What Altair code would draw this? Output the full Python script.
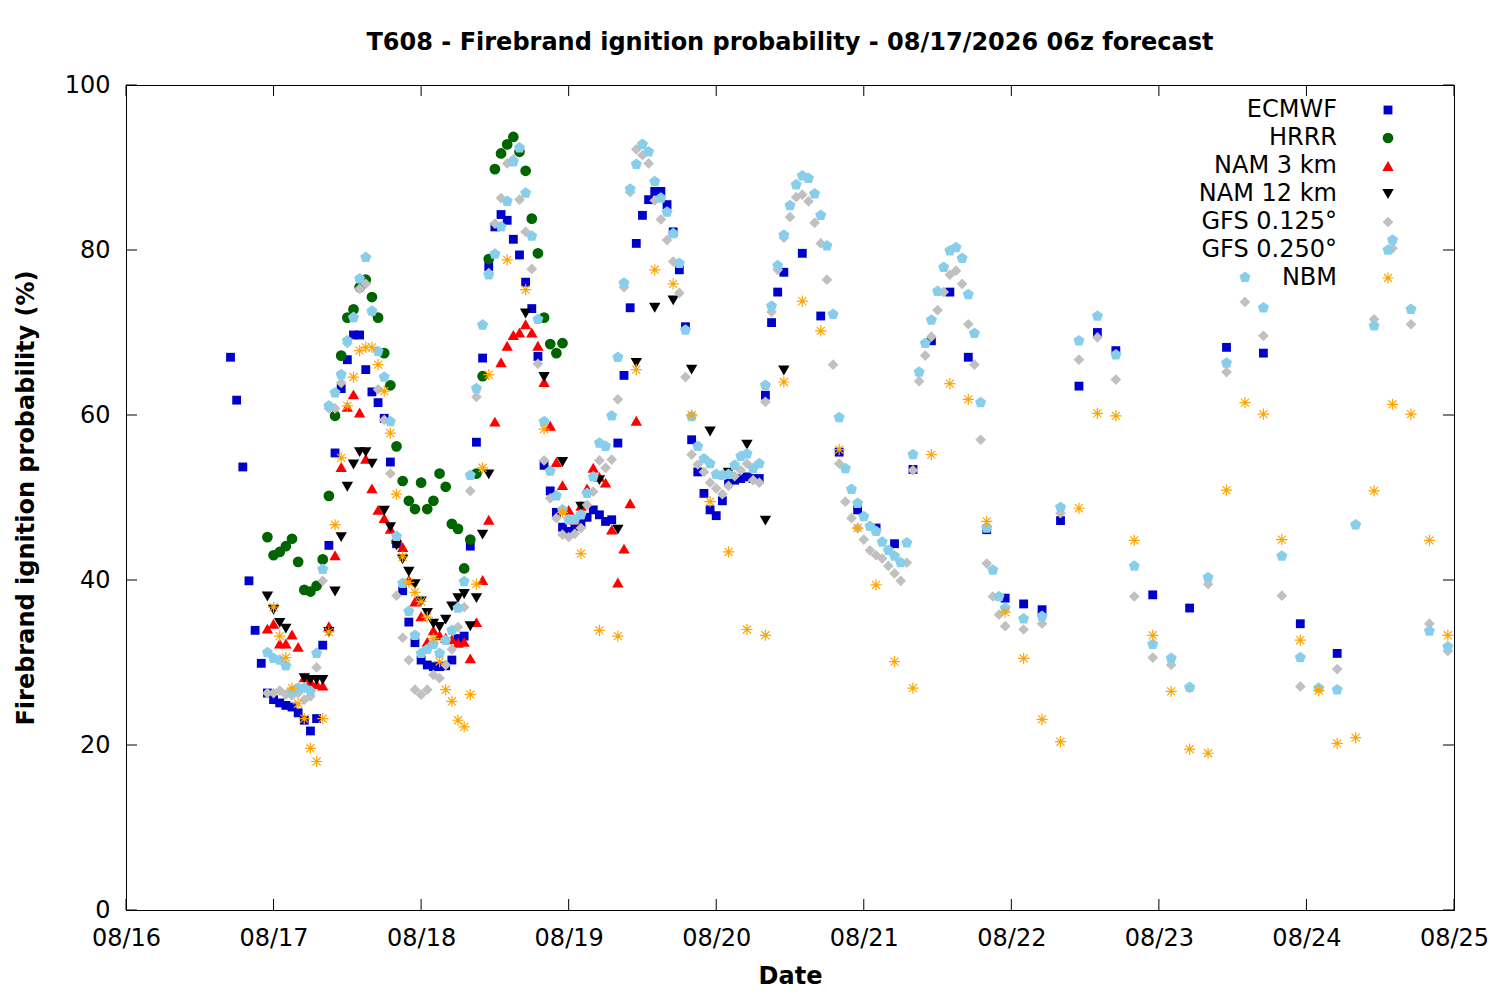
import altair as alt
import pandas as pd

FONT = "DejaVu Sans"
FS = 24
START = pd.Timestamp("2026-08-16 00:00")

# valid times are hours after 08/16 00h; values are ignition probability (%)
ecmwf_hours = list(range(17, 108)) + list(range(110, 162, 3)) + list(range(167, 198, 6))
ecmwf_vals = [
    67.0, 61.8, 53.7, 39.9, 33.9, 29.9, 26.3, 25.5, 25.1, 24.8,
    24.6, 23.9, 23.0, 21.7, 23.2, 32.1, 44.2, 55.4, 63.2, 66.7,
    69.7, 69.7, 65.5, 62.8, 61.5, 59.6, 54.3, 44.4, 38.7, 34.9,
    32.4, 30.3, 29.7, 29.5, 29.5, 29.6, 30.3, 32.9, 33.2, 44.1,
    56.7, 66.9, 78.0, 82.8, 84.3, 83.6, 81.3, 79.4, 76.1, 72.9,
    67.1, 53.9, 50.8, 48.2, 46.4, 45.9, 46.5, 46.9, 47.6, 48.5,
    47.9, 47.1, 47.3, 56.6, 64.8, 73.0, 80.8, 84.2, 86.1, 87.1,
    87.1, 85.5, 82.2, 77.6, 70.7, 57.0, 53.1, 50.5, 48.5, 47.8,
    49.6, 51.9, 52.1, 52.3, 52.5, 52.3, 52.3, 62.4, 71.2, 74.9,
    77.3,
    79.6, 72.0, 55.5, 48.5, 46.3, 44.4, 53.4, 69.0, 74.9, 67.0,
    46.1, 37.8, 37.1, 36.4, 47.2, 63.5, 70.0, 67.8,
    38.2, 36.6, 68.2, 67.5, 34.7, 31.1,
]

hrrr_hours = list(range(23, 72))
hrrr_vals = [
    45.2, 43.0, 43.4, 44.1, 45.0, 42.2, 38.8, 38.6, 39.3, 42.5,
    50.2, 59.9, 67.2, 71.8, 72.8, 75.5, 76.4, 74.3, 71.8, 67.5,
    63.6, 56.2, 52.0, 49.6, 48.6, 51.8, 48.6, 49.6, 52.9, 51.3,
    46.8, 46.2, 41.4, 44.9, 52.9, 64.7, 78.9, 89.8, 91.7, 92.8,
    93.7, 91.9, 89.6, 83.8, 79.6, 71.8, 68.6, 67.5, 68.7,
]

nam3_hours = list(range(23, 84))
nam3_vals = [
    34.1, 34.7, 32.3, 32.3, 33.4, 31.9, 28.2, 27.7, 27.4, 27.2,
    34.4, 43.0, 53.7, 61.0, 62.5, 60.3, 54.7, 51.1, 48.5, 47.5,
    46.2, 45.0, 44.0, 40.0, 37.4, 35.6, 32.5, 33.9, 33.3, 33.0,
    32.8, 32.4, 32.5, 30.5, 34.9, 40.0, 47.3, 59.2, 66.4, 68.4,
    69.7, 70.0, 71.0, 70.0, 68.4, 64.0, 58.7, 54.3, 51.5, 48.5,
    47.3, 49.0, 51.1, 53.6, 52.5, 51.8, 46.1, 39.7, 43.8, 49.3,
    59.3,
]

nam12_hours = [23, 24, 25, 26] + list(range(29, 41)) + list(range(42, 60)) + list(range(65, 108, 3))
nam12_vals = [
    38.0, 36.4, 34.8, 34.1,
    28.1, 27.9, 27.9, 27.9, 33.7, 38.6, 45.2, 51.3, 54.0, 55.5, 55.5, 54.1,
    48.4, 46.4, 44.2, 42.5, 41.0, 39.5, 37.4, 36.0, 34.7, 34.3,
    35.2, 36.8, 37.8, 38.3, 34.4, 37.8, 45.5, 52.8,
    72.3, 64.6, 54.3, 48.9, 52.1, 46.1, 66.3, 73.0, 73.9, 65.5,
    58.0, 53.0, 56.4, 47.2, 65.4,
]

gfs_hours = list(range(23, 144)) + list(range(146, 216, 3))
gfs125_vals = [
    26.3, 26.3, 26.6, 26.1, 26.0, 26.3, 25.5, 25.9, 29.4, 39.9,
    60.8, 60.8, 63.9, 68.7, 71.9, 75.3, 75.9, 72.5, 63.1, 59.4,
    52.9, 38.1, 33.0, 30.3, 26.7, 26.1, 26.7, 28.5, 28.1, 29.7,
    31.6, 34.3, 36.7, 50.8, 62.2, 71.0, 77.2, 83.2, 86.3, 90.5,
    91.0, 86.1, 82.2, 77.7, 66.2, 54.5, 49.9, 47.5, 45.5, 45.2,
    45.6, 46.3, 49.1, 50.7, 54.5, 53.6, 54.6, 61.9, 75.5, 87.0,
    92.2, 91.5, 90.5, 86.0, 83.7, 81.2, 78.6, 74.8, 64.6, 55.2,
    54.0, 53.1, 51.8, 51.1, 50.4, 51.4, 52.6, 53.3, 54.1, 52.1,
    51.8, 61.6, 72.5, 77.6, 81.5, 84.0, 86.4, 86.7, 85.9, 83.3,
    80.8, 76.4, 66.1, 54.1, 49.5, 47.5, 46.3, 44.9, 43.6, 43.0,
    42.6, 41.7, 40.8, 39.9, 42.1, 53.3, 64.1, 67.2, 69.5, 72.7,
    74.9, 77.0, 77.5, 75.9, 71.0, 66.1, 57.0, 42.0, 38.0, 35.8,
    34.4,
    34.0, 34.7, 48.1, 66.7, 69.4, 64.3, 38.0, 30.6, 29.7, 26.9,
    39.5, 65.2, 73.7, 69.6, 38.1, 27.1, 26.9, 29.2, 46.7, 71.6,
    80.2, 71.0, 34.7, 31.4,
]
gfs250_vals = [
    31.2, 30.5, 30.3, 29.6, 26.5, 26.9, 26.9, 26.5, 31.1, 41.3,
    61.1, 62.7, 64.9, 69.0, 71.8, 76.5, 79.1, 72.6, 67.7, 64.6,
    59.2, 45.3, 39.6, 36.2, 33.3, 31.1, 31.6, 32.2, 31.1, 32.7,
    33.9, 36.6, 39.8, 52.7, 63.2, 70.9, 77.0, 79.5, 82.8, 85.9,
    90.7, 92.4, 86.9, 81.7, 71.6, 59.2, 53.2, 50.2, 48.5, 47.3,
    47.3, 47.9, 50.5, 52.5, 56.6, 56.2, 59.9, 67.0, 76.0, 87.4,
    90.4, 92.8, 91.9, 88.3, 86.3, 84.6, 82.0, 78.4, 70.3, 59.8,
    56.2, 54.7, 54.1, 52.8, 52.7, 52.8, 53.9, 55.0, 55.3, 53.5,
    54.1, 63.6, 73.2, 78.1, 81.8, 85.4, 87.9, 89.0, 88.7, 86.8,
    84.2, 80.5, 72.2, 59.7, 53.5, 51.0, 49.3, 47.7, 46.5, 45.9,
    44.6, 43.6, 42.9, 42.1, 44.5, 55.2, 65.2, 68.7, 71.5, 75.0,
    77.9, 79.9, 80.3, 79.0, 74.6, 69.9, 61.5, 46.3, 41.2, 38.0,
    36.6,
    35.3, 35.6, 48.8, 69.0, 72.0, 67.3, 41.7, 32.2, 30.5, 27.0,
    40.3, 66.3, 76.7, 73.0, 42.9, 30.6, 26.9, 26.7, 46.7, 70.8,
    81.2, 72.8, 33.8, 31.9,
]

nbm_hours = list(range(24, 60)) + list(range(62, 216, 3))
nbm_vals = [
    36.7, 33.2, 30.6, 26.9, 25.0, 23.2, 19.6, 18.0, 23.2, 33.7,
    46.7, 54.8, 61.1, 64.6, 67.8, 68.2, 68.2, 66.1, 62.9, 57.8,
    50.4, 42.8, 39.7, 38.5, 37.4, 35.5, 32.9, 30.1, 26.7, 25.3,
    23.0, 22.2, 26.1, 39.5, 53.6, 64.9,
    78.8, 75.2, 58.3, 48.2, 43.2, 33.9, 33.2, 65.5, 77.6, 75.9,
    60.0, 49.5, 43.4, 34.0, 33.3, 64.0, 73.8, 70.2, 55.8, 46.3,
    39.4, 30.1, 26.9, 55.2, 63.8, 61.9, 47.1, 36.1, 30.5, 23.1,
    20.4, 48.7, 60.2, 59.9, 44.8, 33.3, 26.5, 19.5, 19.0, 50.9,
    61.5, 60.1, 44.9, 32.7, 26.6, 20.2, 20.9, 50.8, 61.3, 60.1,
    44.8, 33.3,
]

models = ["ECMWF", "HRRR", "NAM 3 km", "NAM 12 km", "GFS 0.125°", "GFS 0.250°", "NBM"]
series = [
    (ecmwf_hours, ecmwf_vals), (hrrr_hours, hrrr_vals), (nam3_hours, nam3_vals),
    (nam12_hours, nam12_vals), (gfs_hours, gfs125_vals), (gfs_hours, gfs250_vals),
    (nbm_hours, nbm_vals),
]
y_ticks = [0, 20, 40, 60, 80, 100]
day_ticks = pd.date_range("2026-08-16", "2026-08-25", freq="D")

PENTAGON = "M0,-1L0.951,-0.309L0.588,0.809L-0.588,0.809L-0.951,-0.309Z"
ASTERISK = "M-1,0L1,0M0,-1L0,1M-0.72,-0.72L0.72,0.72M-0.72,0.72L0.72,-0.72"
styles = {
    "ECMWF": dict(shape="square", color="#0000cd", size=78, filled=True),
    "HRRR": dict(shape="circle", color="#006400", size=115, filled=True),
    "NAM 3 km": dict(shape="triangle-up", color="#ff0000", size=130, filled=True),
    "NAM 12 km": dict(shape="triangle-down", color="#000000", size=130, filled=True),
    "GFS 0.125°": dict(shape="diamond", color="#c0c0c0", size=115, filled=True),
    "GFS 0.250°": dict(shape=PENTAGON, color="#87ceeb", size=135, filled=True),
    "NBM": dict(shape=ASTERISK, color="#ffa500", size=125, filled=False),
}

W, H = 1328, 825

x_enc = alt.X("time:T", title="Date",
              scale=alt.Scale(domain=[alt.DateTime(year=2026, month=8, date=16),
                                      alt.DateTime(year=2026, month=8, date=25)]),
              axis=alt.Axis(values=[alt.DateTime(year=d.year, month=d.month, date=d.day) for d in day_ticks],
                            format="%m/%d", labelPadding=16, titlePadding=14,
                            labelFlush=False, labelBound=False, labelOverlap=False))
y_enc = alt.Y("prob:Q", title="Firebrand ignition probability (%)",
              scale=alt.Scale(domain=[0, 100], nice=False),
              axis=alt.Axis(values=y_ticks, labelPadding=16, titlePadding=26))

layers = []

# inward tick marks on all four sides, like the gnuplot border
ytk = pd.DataFrame({"prob": y_ticks})
xtk = pd.DataFrame({"time": day_ticks})
layers.append(alt.Chart(ytk).mark_rule(color="black").encode(y=y_enc, x=alt.value(0), x2=alt.value(11)))
layers.append(alt.Chart(ytk).mark_rule(color="black").encode(y=y_enc, x=alt.value(W - 11), x2=alt.value(W)))
layers.append(alt.Chart(xtk).mark_rule(color="black").encode(x=x_enc, y=alt.value(H - 11), y2=alt.value(H)))
layers.append(alt.Chart(xtk).mark_rule(color="black").encode(x=x_enc, y=alt.value(0), y2=alt.value(11)))

for name, (hours, vals) in zip(models, series):
    st = styles[name]
    df = pd.DataFrame({"time": [START + pd.Timedelta(hours=h) for h in hours], "prob": vals})
    layers.append(
        alt.Chart(df).mark_point(shape=st["shape"], color=st["color"], size=st["size"],
                                 filled=st["filled"], opacity=1, strokeWidth=1.2)
        .encode(x=x_enc, y=y_enc)
    )

# key in the top right corner: label, then symbol
for i, name in enumerate(models):
    st = styles[name]
    row = pd.DataFrame({"model": [name]})
    ypos = 25 + 28 * i
    layers.append(
        alt.Chart(row).mark_text(align="right", baseline="middle", font=FONT, fontSize=FS, color="black")
        .encode(text="model:N", x=alt.value(1211), y=alt.value(ypos))
    )
    layers.append(
        alt.Chart(row).mark_point(shape=st["shape"], color=st["color"], size=st["size"],
                                  filled=st["filled"], opacity=1, strokeWidth=1.2)
        .encode(x=alt.value(1262), y=alt.value(ypos))
    )

chart = alt.layer(*layers).properties(
    width=W,
    height=H,
    autosize=alt.AutoSizeParams(type="none"),
    padding={"left": 118, "top": 77, "right": 38, "bottom": 82},
    title=alt.Title("T608 - Firebrand ignition probability - 08/17/2026 06z forecast",
                    anchor="middle", offset=18),
    background="white",
).configure_view(
    stroke="black", strokeWidth=1
).configure_axis(
    labelFont=FONT, titleFont=FONT, labelFontSize=FS, titleFontSize=FS,
    titleFontWeight="bold", labelColor="black", titleColor="black",
    grid=False, ticks=False, domain=False,
).configure_title(
    font=FONT, fontSize=FS, fontWeight="bold", color="black"
)

chart.save("out.html", embed_options={"renderer": "svg", "actions": False})
